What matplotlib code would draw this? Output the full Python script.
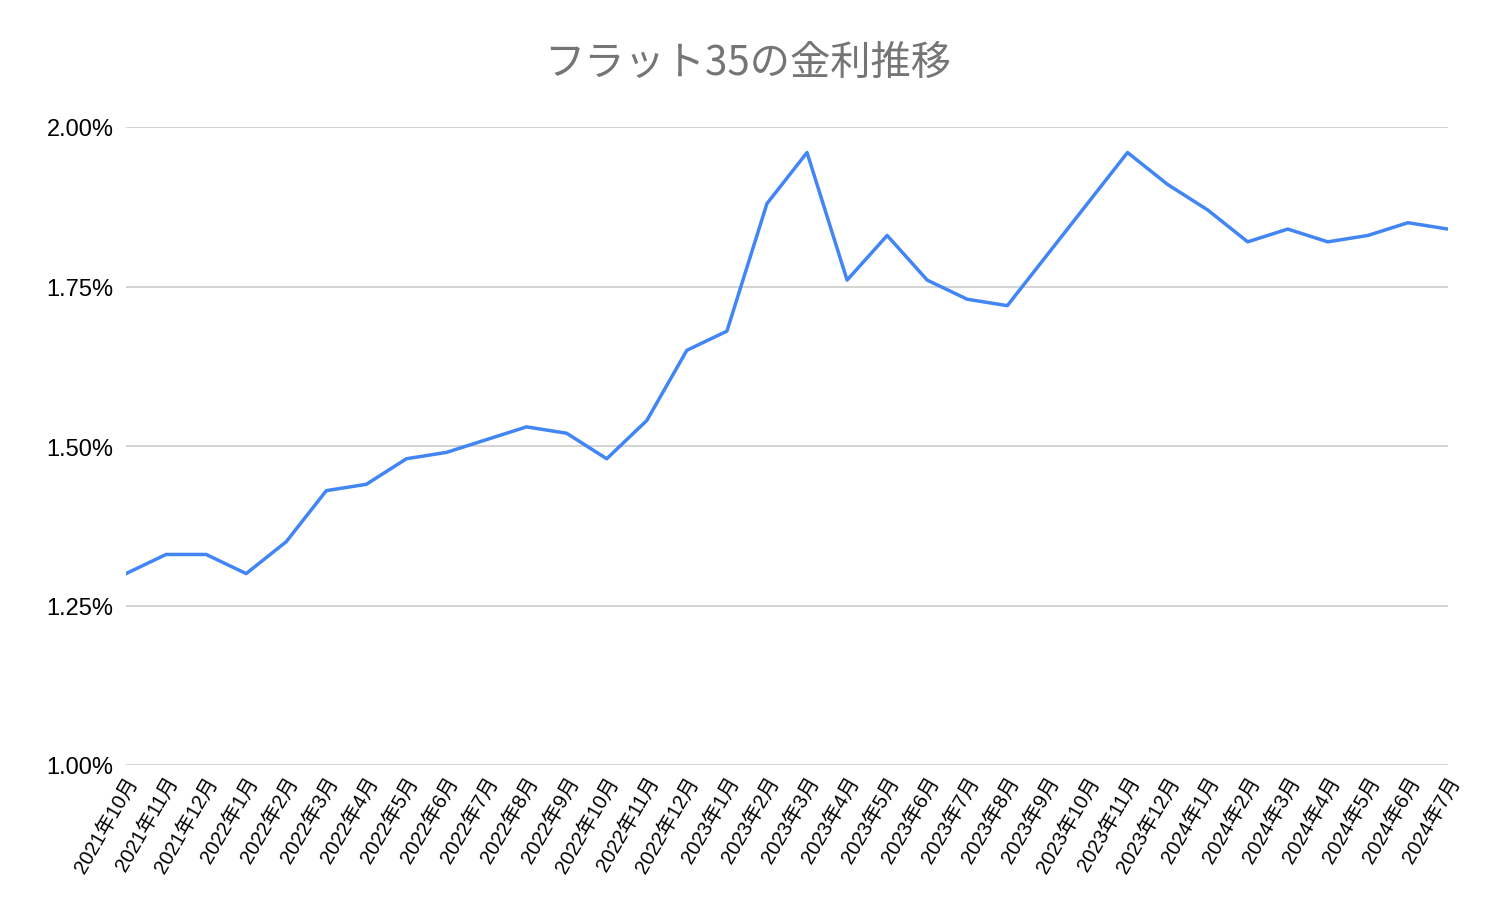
import matplotlib.pyplot as plt
from matplotlib.ticker import FuncFormatter

plt.rcParams['font.family'] = ['Liberation Sans', 'Noto Sans CJK JP', 'DejaVu Sans']

months = [
    "2021年10月", "2021年11月", "2021年12月",
    "2022年1月", "2022年2月", "2022年3月", "2022年4月", "2022年5月", "2022年6月",
    "2022年7月", "2022年8月", "2022年9月", "2022年10月", "2022年11月", "2022年12月",
    "2023年1月", "2023年2月", "2023年3月", "2023年4月", "2023年5月", "2023年6月",
    "2023年7月", "2023年8月", "2023年9月", "2023年10月", "2023年11月", "2023年12月",
    "2024年1月", "2024年2月", "2024年3月", "2024年4月", "2024年5月", "2024年6月",
    "2024年7月",
]
rates = [
    1.30, 1.33, 1.33,
    1.30, 1.35, 1.43, 1.44, 1.48, 1.49,
    1.51, 1.53, 1.52, 1.48, 1.54, 1.65,
    1.68, 1.88, 1.96, 1.76, 1.83, 1.76,
    1.73, 1.72, 1.80, 1.88, 1.96, 1.91,
    1.87, 1.82, 1.84, 1.82, 1.83, 1.85,
    1.84,
]
yticks = [1.00, 1.25, 1.50, 1.75, 2.00]

fig = plt.figure(figsize=(14.96, 9.2), dpi=100)
ax = fig.add_axes([126 / 1496, 1 - 766 / 920, (1448 - 126) / 1496, (766 - 128) / 920])

x = list(range(len(months)))
ax.plot(x, rates, color="#4285F4", linewidth=2.5, solid_joinstyle="round")

ax.set_xlim(0, len(months) - 1)
ax.set_ylim(1.0, 2.0)
ax.set_yticks(yticks)
ax.yaxis.set_major_formatter(FuncFormatter(lambda v, p: f"{v:.2f}%"))
ax.set_xticks(x)
ax.set_xticklabels(months, rotation=60, ha="right", va="top", rotation_mode="anchor")

ax.grid(axis="y", color="#cccccc", linewidth=1.2)
ax.set_axisbelow(True)
for s in ax.spines.values():
    s.set_visible(False)
ax.tick_params(axis="both", length=0, colors="#000000")
ax.tick_params(axis="y", labelsize=17, pad=9)
ax.tick_params(axis="x", labelsize=14.5, pad=6)

fig.text(0.5, 1 - 63 / 920, "フラット35の金利推移", ha="center", va="center",
         fontsize=29, color="#757575", family=['Noto Sans CJK JP', 'DejaVu Sans'])

fig.savefig("out.png", dpi=100)
